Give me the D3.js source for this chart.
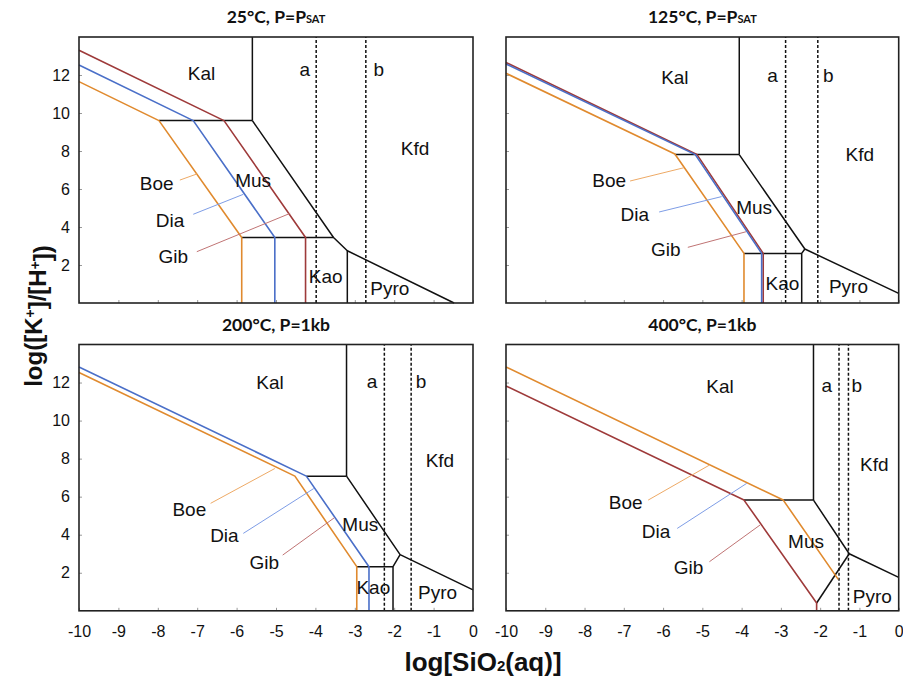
<!DOCTYPE html>
<html>
<head>
<meta charset="utf-8">
<script src="https://cdn.jsdelivr.net/npm/d3@7"></script>
<style>
  html, body { margin: 0; padding: 0; background: #fff; }
  svg text { font-family: "Liberation Sans", Arial, sans-serif; }
</style>
</head>
<body>
<svg id="chart" width="903" height="680"></svg>
<script>
// ---------- shared axis data ----------
const xDomain = [-10, 0];
const yDomain = [0, 14];
const xTickValues = [-10, -9, -8, -7, -6, -5, -4, -3, -2, -1, 0];
const xTickLabels = ["-10", "-9", "-8", "-7", "-6", "-5", "-4", "-3", "-2", "-1", "0"];
const yTickValues = [2, 4, 6, 8, 10, 12];
const yTickLabels = ["2", "4", "6", "8", "10", "12"];

// ---------- panel titles ----------
const titleMain = ["25°C, P=P", "125°C, P=P", "200°C, P=1kb", "400°C, P=1kb"];
const titleSub = ["SAT", "SAT", "", ""];

// ---------- Panel 1 : 25°C ----------
const p1Black = [
  [[-5.6, 14], [-5.6, 9.6]],
  [[-7.97, 9.6], [-5.6, 9.6]],
  [[-5.6, 9.6], [-3.54, 3.45], [-3.19, 2.75], [-0.48, 0]],
  [[-5.87, 3.45], [-3.54, 3.45]],
  [[-3.19, 2.75], [-3.19, 0]]
];
const p1Dashed = [-3.98, -2.72];
const p1Boe = [[-10, 11.65], [-7.97, 9.6], [-5.87, 3.45], [-5.87, 0]];
const p1Dia = [[-10, 12.53], [-7.1, 9.6], [-5.03, 3.45], [-5.03, 0]];
const p1Gib = [[-10, 13.3], [-6.32, 9.6], [-4.25, 3.45], [-4.25, 0]];
const p1Labels = [["Kal", -6.89, 12.09], ["a", -4.27, 12.3], ["b", -2.39, 12.3], ["Kfd", -1.47, 8.16],
  ["Boe", -8.03, 6.3], ["Mus", -5.58, 6.47], ["Dia", -7.69, 4.37], ["Gib", -7.61, 2.47],
  ["Kao", -3.74, 1.42], ["Pyro", -2.11, 0.77]];
const p1Leaders = { boe: [[-7.44, 6.47], [-7.01, 6.79]], dia: [[-7.10, 4.67], [-5.83, 5.72]], gib: [[-7.01, 2.70], [-4.64, 4.72]] };

// ---------- Panel 2 : 125°C ----------
const p2Black = [
  [[-4.06, 14], [-4.06, 7.81]],
  [[-5.70, 7.81], [-4.06, 7.81]],
  [[-4.06, 7.81], [-2.39, 2.84], [0, 0.51]],
  [[-3.94, 2.61], [-2.47, 2.61]],
  [[-2.47, 0], [-2.47, 2.61], [-2.39, 2.84]]
];
const p2Dashed = [-2.88, -2.06];
const p2Boe = [[-10, 12.09], [-5.70, 7.84], [-3.94, 2.61], [-3.94, 0]];
const p2Dia = [[-10, 12.58], [-5.18, 7.81], [-3.49, 2.61], [-3.49, 0]];
const p2Gib = [[-10, 12.66], [-5.14, 7.82], [-3.45, 2.61], [-3.45, 0]];
const p2Labels = [["Kal", -5.70, 11.91], ["a", -3.21, 12.0], ["b", -1.79, 12.0], ["Kfd", -0.99, 7.83],
  ["Boe", -7.37, 6.47], ["Dia", -6.72, 4.67], ["Gib", -5.93, 2.83], ["Mus", -3.68, 5.07],
  ["Kao", -2.96, 1.04], ["Pyro", -1.28, 0.89]];
const p2Leaders = { boe: [[-6.84, 6.42], [-5.47, 7.12]], dia: [[-6.10, 4.79], [-4.51, 5.6]], gib: [[-5.37, 2.93], [-3.89, 3.75]] };

// ---------- Panel 3 : 200°C ----------
const p3Black = [
  [[-3.21, 14], [-3.21, 7.08]],
  [[-4.23, 7.08], [-3.21, 7.08]],
  [[-3.21, 7.08], [-1.85, 2.95], [0, 1.1]],
  [[-2.95, 2.32], [-2.03, 2.32]],
  [[-2.03, 0], [-2.03, 2.32], [-1.85, 2.95]]
];
const p3Dashed = [-2.25, -1.57];
const p3Boe = [[-10, 12.53], [-4.52, 7.08], [-2.95, 2.32], [-2.95, 0]];
const p3Dia = [[-10, 12.82], [-4.23, 7.08], [-2.64, 2.32], [-2.64, 0]];
const p3Gib = [];
const p3Labels = [["Kal", -5.15, 12.0], ["a", -2.56, 12.07], ["b", -1.32, 12.07], ["Kfd", -0.84, 7.92],
  ["Boe", -7.2, 5.33], ["Dia", -6.31, 3.98], ["Gib", -5.30, 2.58], ["Mus", -2.86, 4.56],
  ["Kao", -2.53, 1.23], ["Pyro", -0.90, 1.0]];
const p3Leaders = { boe: [[-6.66, 5.65], [-5.03, 7.48]], dia: [[-5.83, 4.07], [-4.04, 6.43]], gib: [[-4.83, 2.93], [-3.52, 4.89]] };

// ---------- Panel 4 : 400°C ----------
const p4Black = [
  [[-2.17, 14], [-2.17, 5.82]],
  [[-3.94, 5.82], [-2.17, 5.82]],
  [[-2.17, 5.82], [-1.26, 3.0], [0, 1.76]],
  [[-1.26, 3.0], [-2.09, 0.41]]
];
const p4Dashed = [-1.52, -1.28];
const p4Boe = [[-10, 12.82], [-2.94, 5.82], [-1.54, 1.65]];
const p4Dia = [];
const p4Gib = [[-10, 11.82], [-3.94, 5.82], [-2.09, 0.41], [-2.09, 0]];
const p4Labels = [["Kal", -4.55, 11.82], ["a", -1.83, 11.86], ["b", -1.07, 11.86], ["Kfd", -0.62, 7.71],
  ["Boe", -6.95, 5.7], ["Dia", -6.18, 4.21], ["Gib", -5.35, 2.32], ["Mus", -2.36, 3.67],
  ["Pyro", -0.67, 0.78]];
const p4Leaders = { boe: [[-6.38, 5.82], [-4.82, 7.66]], dia: [[-5.64, 4.33], [-3.87, 6.70]], gib: [[-4.82, 2.58], [-3.53, 4.51]] };

// ---------- styles ----------
const colBoe = "#e08a2e", colDia = "#4a6fc8", colGib = "#9e3a3a";
const leadBoe = "#eeaa66", leadDia = "#7e9de6", leadGib = "#c07474";

// ---------- layout ----------
const layout = [
  { x0: 79, x1: 473, y0: 37, y1: 303, showX: false, showY: true },
  { x0: 506, x1: 898.7, y0: 37, y1: 303, showX: false, showY: false },
  { x0: 79, x1: 473, y0: 344.5, y1: 610.8, showX: true, showY: true },
  { x0: 506, x1: 898.7, y0: 344.5, y1: 610.8, showX: true, showY: false }
];
const panels = [
  { black: p1Black, dashed: p1Dashed, boe: p1Boe, dia: p1Dia, gib: p1Gib, labels: p1Labels, leaders: p1Leaders, gibFirst: false },
  { black: p2Black, dashed: p2Dashed, boe: p2Boe, dia: p2Dia, gib: p2Gib, labels: p2Labels, leaders: p2Leaders, gibFirst: true },
  { black: p3Black, dashed: p3Dashed, boe: p3Boe, dia: p3Dia, gib: p3Gib, labels: p3Labels, leaders: p3Leaders, gibFirst: false },
  { black: p4Black, dashed: p4Dashed, boe: p4Boe, dia: p4Dia, gib: p4Gib, labels: p4Labels, leaders: p4Leaders, gibFirst: false }
];

const svg = d3.select("#chart");

panels.forEach((p, i) => {
  const L = layout[i];
  const x = d3.scaleLinear().domain(xDomain).range([L.x0, L.x1]);
  const y = d3.scaleLinear().domain(yDomain).range([L.y1, L.y0]);
  const line = d3.line().x(d => x(d[0])).y(d => y(d[1]));
  const g = svg.append("g");

  // title
  const t = g.append("text")
    .attr("x", (L.x0 + L.x1) / 2).attr("y", L.y0 - 14)
    .attr("text-anchor", "middle")
    .style("font-family", "Lato, 'Open Sans', sans-serif")
    .style("font-weight", "bold").style("font-size", "17.5px").attr("fill", "#111");
  t.append("tspan").text(titleMain[i]);
  if (titleSub[i]) t.append("tspan").style("font-size", "11px").text(titleSub[i]);

  // ticks (inside)
  const xAxis = d3.axisBottom(x).tickValues(xTickValues).tickSizeInner(-3).tickSizeOuter(0)
    .tickFormat((d, k) => L.showX ? xTickLabels[k] : "").tickPadding(12);
  const ax = g.append("g").attr("transform", `translate(0,${L.y1})`).call(xAxis);
  ax.select(".domain").remove();
  ax.selectAll("line").attr("stroke", "#999");
  ax.selectAll("text").style("font-size", "16px").attr("fill", "#111")
    .attr("y", 26).attr("dy", 0);

  const yAxis = d3.axisLeft(y).tickValues(yTickValues).tickSizeInner(-3).tickSizeOuter(0)
    .tickFormat((d, k) => L.showY ? yTickLabels[k] : "").tickPadding(9);
  const ay = g.append("g").attr("transform", `translate(${L.x0},0)`).call(yAxis);
  ay.select(".domain").remove();
  ay.selectAll("line").attr("stroke", "#999");
  ay.selectAll("text").style("font-size", "16px").attr("fill", "#111");

  // dashed lines
  p.dashed.forEach(v => {
    g.append("path").attr("d", line([[v, 0], [v, 14]]))
      .attr("fill", "none").attr("stroke", "#111").attr("stroke-width", 1.5)
      .attr("stroke-dasharray", "3,2");
  });

  // black boundaries
  p.black.forEach(seg => {
    g.append("path").attr("d", line(seg)).attr("fill", "none")
      .attr("stroke", "#111").attr("stroke-width", 1.5).attr("stroke-linejoin", "round");
  });

  // coloured series
  const series = p.gibFirst
    ? [[p.boe, colBoe], [p.gib, colGib], [p.dia, colDia]]
    : [[p.boe, colBoe], [p.dia, colDia], [p.gib, colGib]];
  series.forEach(([data, c]) => {
    if (data.length) g.append("path").attr("d", line(data)).attr("fill", "none")
      .attr("stroke", c).attr("stroke-width", 1.6).attr("stroke-linejoin", "round");
  });

  // leader lines
  [[p.leaders.boe, leadBoe], [p.leaders.dia, leadDia], [p.leaders.gib, leadGib]].forEach(([d, c]) => {
    g.append("path").attr("d", line(d)).attr("fill", "none").attr("stroke", c).attr("stroke-width", 1);
  });

  // region labels
  p.labels.forEach(([txt, lx, ly]) => {
    g.append("text").attr("x", x(lx)).attr("y", y(ly)).attr("dy", "0.36em")
      .attr("text-anchor", "middle").style("font-size", "19px").attr("fill", "#111").text(txt);
  });

  // frame
  g.append("rect").attr("x", L.x0).attr("y", L.y0)
    .attr("width", L.x1 - L.x0).attr("height", L.y1 - L.y0)
    .attr("fill", "none").attr("stroke", "#222").attr("stroke-width", 1.6);
});

// axis titles
const yl = svg.append("text").attr("transform", "translate(41.5,316) rotate(-90)")
  .attr("text-anchor", "middle").style("font-weight", "bold").style("font-size", "24px").attr("fill", "#111");
yl.append("tspan").text("log([K");
yl.append("tspan").attr("dy", "-0.45em").style("font-size", "14px").text("+");
yl.append("tspan").attr("dy", "0.45em").text("]/[H");
yl.append("tspan").attr("dy", "-0.45em").style("font-size", "14px").text("+");
yl.append("tspan").attr("dy", "0.45em").text("])");

const xl = svg.append("text").attr("x", 483).attr("y", 671)
  .attr("text-anchor", "middle").style("font-weight", "bold").style("font-size", "26px").attr("fill", "#111");
xl.append("tspan").text("log[SiO");
xl.append("tspan").style("font-size", "15px").text("2");
xl.append("tspan").text("(aq)]");
</script>
</body>
</html>
